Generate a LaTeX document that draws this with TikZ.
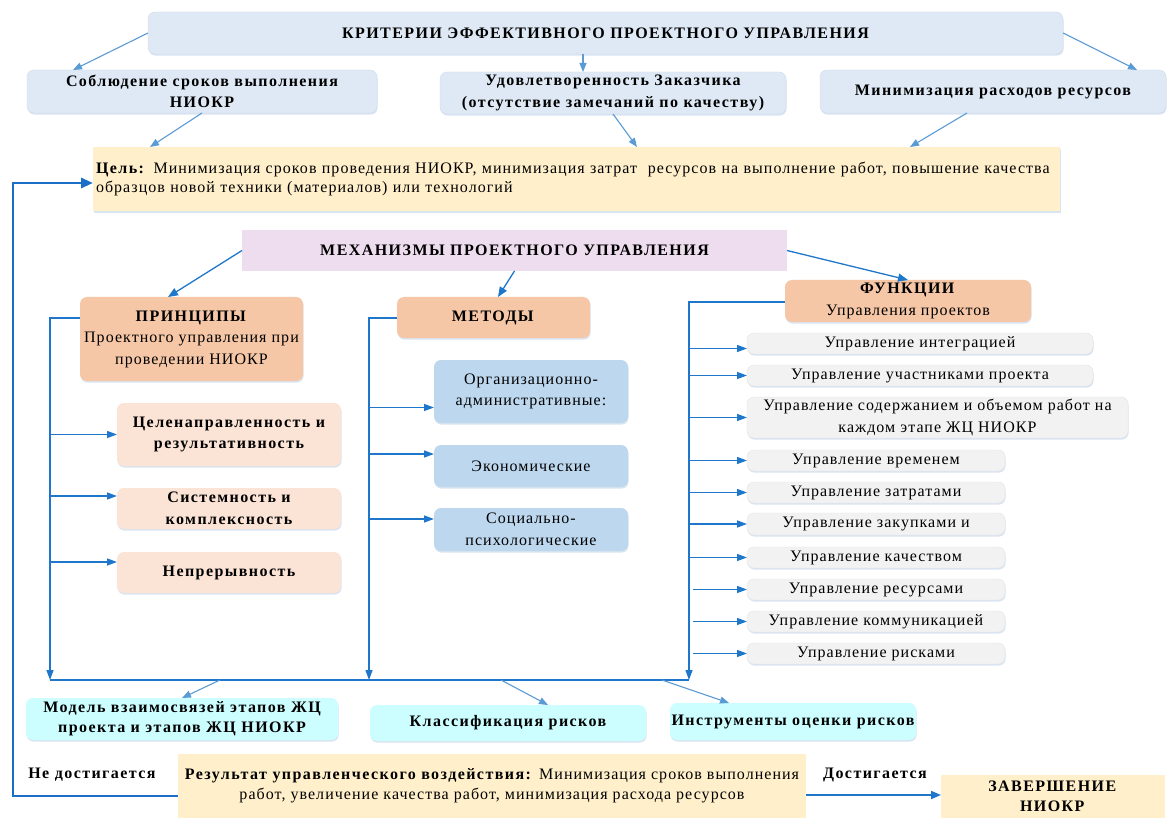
\documentclass[tikz,border=0pt]{standalone}
\usepackage{fontspec}
\setmainfont{Liberation Serif}[LetterSpace=6.5, BoldFeatures={LetterSpace=9}]
\usetikzlibrary{arrows.meta,shadows}
\definecolor{critc}{HTML}{DEE9F5}
\definecolor{critd}{HTML}{D0DDEC}
\definecolor{goalc}{HTML}{FFF0CB}
\definecolor{mechc}{HTML}{EEDDEE}
\definecolor{headc}{HTML}{F6C7A6}
\definecolor{princ}{HTML}{FBE4D6}
\definecolor{methc}{HTML}{BDD7EE}
\definecolor{funcc}{HTML}{F2F2F2}
\definecolor{funcd}{HTML}{E4E4E4}
\definecolor{cyanc}{HTML}{CCFDFF}
\definecolor{arrA}{HTML}{5B9BD5}
\definecolor{arrB}{HTML}{1F77CC}
\definecolor{loopc}{HTML}{1C6FC6}
\definecolor{shadc}{HTML}{C9D9EC}
\newcommand\fsA{\fontsize{16}{21.5}\selectfont}
\newcommand\fsG{\fontsize{16}{18.5}\selectfont}
\newcommand\fsR{\fontsize{16}{20}\selectfont}
\newcommand\mkbox[7]{%
 \pgfmathsetmacro\bw{#5-#3}\pgfmathsetmacro\bh{#6-#4}%
 \pgfmathsetmacro\bcx{(#3+#5)/2}\pgfmathsetmacro\bcy{(#4+#6)/2}%
 \node[#2, minimum width=\bw pt, minimum height=\bh pt] (#1) at (\bcx,\bcy) {#7};}
\tikzset{
 base/.style={outer sep=0pt, inner sep=1.5pt, align=center, text=black},
 shad/.style={drop shadow={shadow xshift=0.6pt, shadow yshift=-1.6pt, fill=shadc, opacity=0.7}},
 crit/.style={base, shad, rounded corners=7pt, fill=critc, draw=critd, line width=0.4pt, font=\fsA\bfseries},
 goalbox/.style={base, shad, fill=goalc, font=\fsG, align=left, inner xsep=3pt, text width=961pt},
 mechbox/.style={base, fill=mechc, font=\fsA\bfseries},
 head/.style={base, shad, rounded corners=7pt, fill=headc, font=\fsA},
 prinbox/.style={base, shad, rounded corners=7pt, fill=princ, font=\fsA\bfseries},
 methbox/.style={base, shad, rounded corners=7pt, fill=methc, font=\fsA},
 funcbox/.style={base, shad, rounded corners=7pt, fill=funcc, draw=funcd, line width=0.4pt, font=\fsA},
 cyanbox/.style={base, shad, rounded corners=7pt, fill=cyanc, font=\fsR\bfseries},
 resbox/.style={base, fill=goalc, font=\fsR},
 lbl/.style={base, font=\fsR\bfseries},
 thinarr/.style={draw=arrA, line width=1.1pt, -{Triangle[length=9pt,width=7pt]}},
 mecharr/.style={draw=arrB, line width=1.3pt, -{Triangle[length=10pt,width=8pt]}},
 busline/.style={draw=arrB, line width=1.3pt},
 busarr/.style={draw=arrB, line width=1.3pt, -{Triangle[length=10pt,width=7pt]}},
 loopst/.style={draw=loopc, line width=2.8pt, -{Triangle[length=12pt,width=10pt]}},
}
\begin{document}
\begin{tikzpicture}[x=1pt,y=-1pt]
\fill[white] (0,0) rectangle (1167,818);
\useasboundingbox (0,0) rectangle (1167,818);
% criteria
\mkbox{title}{crit}{148}{12}{1063}{54}{КРИТЕРИИ ЭФФЕКТИВНОГО ПРОЕКТНОГО УПРАВЛЕНИЯ}
\mkbox{c1}{crit}{27}{70}{377}{113}{Соблюдение сроков выполнения\\НИОКР}
\mkbox{c2}{crit}{440}{72}{786}{114}{Удовлетворенность Заказчика\\(отсутствие замечаний по качеству)}
\mkbox{c3}{crit}{820}{70}{1166}{113}{Минимизация расходов ресурсов}
\mkbox{goal}{goalbox}{93}{147}{1060}{211}{\textbf{Цель:} Минимизация сроков проведения НИОКР, минимизация затрат \ ресурсов на выполнение работ, повышение качества\\образцов новой техники (материалов) или технологий}
% mechanisms
\mkbox{mech}{mechbox}{242}{230}{787}{271}{МЕХАНИЗМЫ ПРОЕКТНОГО УПРАВЛЕНИЯ}
\mkbox{prin}{head}{80}{297}{303}{381}{\textbf{ПРИНЦИПЫ}\\Проектного управления при\\проведении НИОКР}
\mkbox{meth}{head}{397}{297}{590}{338}{\textbf{МЕТОДЫ}}
\mkbox{func}{head}{785}{280}{1031}{322}{\textbf{ФУНКЦИИ}\\Управления проектов}
\mkbox{p1}{prinbox}{117}{403}{341}{466}{Целенаправленность и\\результативность}
\mkbox{p2}{prinbox}{117}{488}{341}{529}{Системность и\\комплексность}
\mkbox{p3}{prinbox}{117}{552}{341}{593}{Непрерывность}
\mkbox{m1}{methbox}{434}{360}{628}{423}{Организационно-\\административные:}
\mkbox{m2}{methbox}{434}{445}{628}{487}{Экономические}
\mkbox{m3}{methbox}{434}{508}{628}{551}{Социально-\\психологические}
\mkbox{f1}{funcbox}{747}{333}{1093}{354}{Управление интеграцией}
\mkbox{f2}{funcbox}{747}{365}{1093}{386}{Управление участниками проекта}
\mkbox{f3}{funcbox}{747}{397}{1128}{438}{Управление содержанием и объемом работ на\\каждом этапе ЖЦ НИОКР}
\mkbox{f4}{funcbox}{747}{450}{1005}{471}{Управление временем}
\mkbox{f5}{funcbox}{747}{482}{1005}{503}{Управление затратами}
\mkbox{f6}{funcbox}{747}{513}{1005}{535}{Управление закупками и}
\mkbox{f7}{funcbox}{747}{547}{1005}{568}{Управление качеством}
\mkbox{f8}{funcbox}{747}{579}{1005}{600}{Управление ресурсами}
\mkbox{f9}{funcbox}{747}{611}{1005}{632}{Управление коммуникацией}
\mkbox{f10}{funcbox}{747}{643}{1005}{664}{Управление рисками}
% bottom
\mkbox{model}{cyanbox}{26}{698}{338}{740}{Модель взаимосвязей этапов ЖЦ\\проекта и этапов ЖЦ НИОКР}
\mkbox{klass}{cyanbox}{370}{705}{646}{741}{Классификация рисков}
\mkbox{instr}{cyanbox}{670}{703}{916}{740}{Инструменты оценки рисков}
\mkbox{result}{resbox}{178}{754}{806}{818}{\textbf{Результат управленческого воздействия:} Минимизация сроков выполнения\\работ, увеличение качества работ, минимизация расхода ресурсов}
\mkbox{zav}{resbox}{941}{775}{1165}{818}{\textbf{ЗАВЕРШЕНИЕ}\\\textbf{НИОКР}}
\node[lbl] (nd) at (92,775) {Не достигается};
\node[lbl] (dd) at (875,775) {Достигается};
% top arrows
\draw[thinarr] (title.west) -- ([xshift=-129pt]c1.north);
\draw[thinarr] ([xshift=-30pt]c2.north |- title.south) -- ([xshift=-30pt]c2.north);
\draw[thinarr] (title.east) -- ([xshift=144pt]c3.north);
\draw[thinarr] (c1.south) -- ([xshift=-426.5pt]goal.north);
\draw[thinarr] (c2.south) -- ([xshift=60.5pt]goal.north);
\draw[thinarr] ([xshift=-26pt]c3.south) -- ([xshift=333.5pt]goal.north);
% mechanism arrows
\draw[mecharr] (mech.west) -- ([xshift=-23.5pt]prin.north);
\draw[mecharr] (mech.south) -- ([xshift=4.5pt]meth.north);
\draw[mecharr] (mech.east) -- (func.north);
% buses
\coordinate (pb) at (50,318);
\coordinate (mb) at (369,318);
\coordinate (fb) at (689,302);
\coordinate (hl) at (50,680);
\coordinate (hr) at (689,680);
\draw[busarr] (prin.west |- pb) -- (pb) -- (pb |- hl);
\draw[busarr] (meth.west |- mb) -- (mb) -- (mb |- hl);
\draw[busarr] (func.west |- fb) -- (fb) -- (fb |- hl);
\draw[busline] (hl) -- (hr);
\coordinate (p1a) at (p1.west);
\coordinate (p2a) at ([yshift=12.5pt]p2.west);
\coordinate (p3a) at ([yshift=10.5pt]p3.west);
\coordinate (m1a) at ([yshift=-16pt]m1.west);
\coordinate (m2a) at ([yshift=12pt]m2.west);
\coordinate (m3a) at ([yshift=10.5pt]m3.west);
\foreach \t in {p1a,p2a,p3a} \draw[busarr] (pb |- \t) -- (\t);
\foreach \t in {m1a,m2a,m3a} \draw[busarr] (mb |- \t) -- (\t);
\coordinate (f1a) at ([yshift=-5pt]f1.west);
\draw[busarr] (fb |- f1a) -- (f1a);
\foreach \t in {f2,f3,f4,f5,f6,f7} \draw[busarr] (fb |- \t.west) -- (\t.west);
\foreach \t in {f8,f9,f10} \draw[busarr] ([xshift=4pt]fb |- \t.west) -- (\t.west);
% bottom arrows
\coordinate (b1) at (220,680);
\coordinate (b2) at (501,680);
\coordinate (b3) at (662,680);
\draw[thinarr] (b1) -- (model.north);
\draw[thinarr] (b2) -- ([xshift=40pt]klass.north);
\draw[thinarr] (b3) -- ([xshift=-64pt]instr.north);
% loop and completion
\coordinate (lx) at (13,0);
\coordinate (ra) at ([yshift=-10pt]result.west);
\coordinate (ga) at ([yshift=-4pt]goal.west);
\draw[loopst] (ra) -- (lx |- ra) -- (lx |- ga) -- (ga);
\coordinate (rb) at ([yshift=-9pt]result.east);
\draw[mecharr, line width=1.8pt] (rb) -- (zav.west |- rb);
\end{tikzpicture}
\end{document}
